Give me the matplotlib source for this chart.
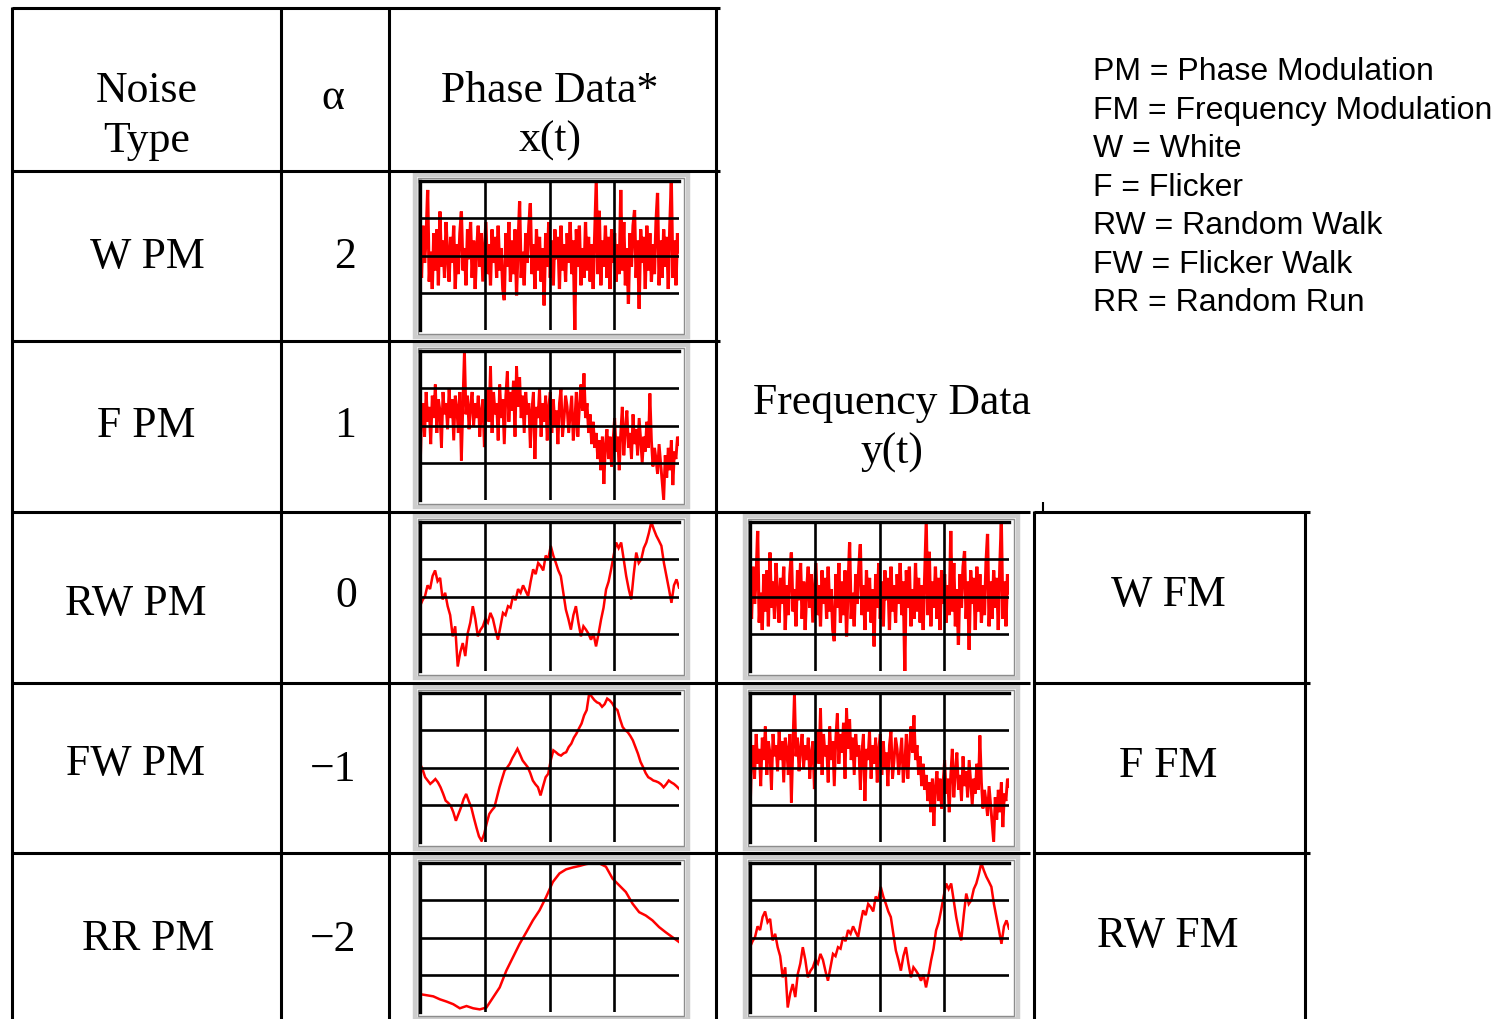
import matplotlib
matplotlib.use("Agg")
import matplotlib.pyplot as plt
from matplotlib.lines import Line2D
from matplotlib.patches import Rectangle

# ---- noise traces (normalised units, grid spans -2 .. 2) ----
white = [0.3, -0.6, 0.8, -0.2, 0.5, 1.76, -0.7, 0.1, -0.9, 0.6,
         -0.4, 0.7, -0.8, 1.18, -0.3, 0.4, -0.6, 0.9, 0.0, -0.7,
         0.5, -0.2, 0.8, -0.9, 0.3, -0.5, 0.6, 1.18, -0.4, 0.2,
         -0.8, 0.7, -0.1, 0.9, -0.6, 0.4, -0.9, 0.2, 0.8, -0.3,
         0.6, -0.7, 0.1, 0.9, -0.5, 0.3, -0.8, 0.7, -0.2, 0.5,
         -0.6, 0.8, -0.4, 0.2, -0.9, -1.2, 0.6, -0.3, 0.9, -0.7,
         0.4, -0.5, 0.7, -1.07, 0.3, 1.45, -0.6, 0.1, -0.8, 0.6,
         -0.2, 0.8, 1.4, -0.5, 0.3, -0.9, 0.7, -0.4, 0.5, -0.7,
         0.2, -1.34, 0.6, -0.3, 0.9, -0.6, 0.4, -0.8, 0.7, -0.1,
         0.5, -0.9, 0.8, -0.4, 0.3, -0.7, 0.6, -0.2, 0.9, -0.5,
         0.4, -2.0, 0.7, -0.3, 0.8, -0.8, 0.2, -0.6, 0.9, -0.4,
         0.5, -0.7, 0.3, -0.9, 0.6, 2.0, -0.5, 1.2, -0.8, 0.4,
         -0.3, 0.8, -0.6, 0.5, -0.9, 0.7, -0.2, 0.6, -0.7, 0.3,
         -0.5, 1.76, -0.4, 0.9, -0.8, 0.2, -1.3, 0.6, -0.3, 0.8,
         1.22, -0.6, 0.4, -1.43, 0.7, -0.2, 0.5, -0.9, 0.8, -0.4,
         0.6, -0.7, 0.3, -0.5, 0.9, 1.68, -0.8, 0.4, -0.6, 0.7,
         -0.3, 0.5, -0.9, 0.8, 2.0, -0.6, 0.4, -0.8, 0.6, 0.1]

flicker = [-1.34, 0.2, 0.6, -0.3, 0.9, 0.1, 0.5, -0.5, 0.8, 0.2,
           1.1, -0.2, 0.7, 0.4, -0.6, 0.9, 0.3, 0.6, -0.1, 1.0,
           0.2, 0.7, -0.4, 0.8, 0.5, -0.2, 0.9, -0.94, 0.6, 2.0,
           0.3, 0.8, -0.1, 0.5, 0.9, 0.0, 0.6, 0.2, 0.8, -0.3,
           0.4, 0.7, -0.58, 0.3, 1.0, 0.1, 1.59, -0.2, 0.9, 0.3,
           0.6, -0.4, 1.1, 0.2, 0.7, -0.5, 0.8, 1.45, 0.1, 0.9,
           0.4, 1.2, -0.3, 1.59, 0.5, 1.3, 0.2, 0.8, -0.2, 0.9,
           0.3, 0.6, -0.6, 0.4, 0.9, -0.9, 0.5, 0.2, 1.0, -0.3,
           0.6, 0.1, 0.8, -0.4, 0.5, 0.9, -0.2, 0.7, 0.0, 0.4,
           -0.5, 0.6, 1.0, -0.3, 0.2, 0.8, 0.5, -0.2, 0.3, 0.8,
           -0.4, 0.1, 0.9, -0.3, 0.5, 1.1, 0.4, 1.40, 0.2, 0.6,
           -0.2, 0.3, -0.5, 0.1, -0.6, -0.2, -0.9, -0.4, -1.2, -0.3,
           -1.57, -0.5, -0.1, -0.9, -0.3, -1.1, -0.4, 0.2, -0.7, -0.3,
           -1.2, -0.2, 0.5, -0.8, -0.1, 0.4, -0.6, -0.2, -0.9, 0.3,
           -0.5, -0.1, -0.8, 0.2, -0.4, -1.0, -0.3, -0.7, 0.1, -0.6,
           0.86, -0.4, -1.1, -0.6, -0.9, -1.3, -0.5, -1.0, -1.5, -2.0,
           -0.8, -1.4, -0.6, -1.2, -0.4, -1.6, -0.7, -0.9, -0.3, -0.5]

random_walk = [-0.26, -0.1, 0.01, 0.3, 0.2, 0.55, 0.7, 0.41, 0.5, -0.08,
               0.1, -0.26, -0.5, -1.07, -0.8, -1.88, -1.5, -1.25, -1.6, -0.98,
               -0.7, -0.26, -0.6, -1.07, -0.9, -0.8, -0.6, -0.7, -0.44, -0.6,
               -0.9, -1.16, -0.8, -0.44, -0.5, -0.26, -0.3, 0.01, -0.1, 0.2,
               0.10, 0.3, 0.15, 0.01, 0.4, 0.73, 0.6, 0.9, 0.82, 0.7,
               1.1, 1.00, 1.36, 1.1, 0.91, 0.7, 0.55, 0.1, -0.35, -0.6,
               -0.89, -0.5, -0.26, -0.7, -1.07, -0.8, -0.89, -1.0, -1.16, -1.0,
               -1.34, -1.0, -0.62, -0.3, 0.19, 0.4, 0.73, 1.1, 1.45, 1.3,
               1.45, 1.0, 0.55, 0.2, -0.08, 0.6, 1.18, 0.9, 1.00, 1.3,
               1.45, 1.7, 2.0, 1.8, 1.63, 1.5, 1.36, 0.9, 0.55, 0.2,
               -0.17, 0.3, 0.46, 0.24]

flicker_walk = [0.10, -0.05, -0.26, -0.35, -0.44, -0.38, -0.31, -0.4, -0.53, -0.7,
                -0.89, -0.95, -1.03, -1.2, -1.43, -1.25, -1.07, -0.85, -0.71, -0.9,
                -1.07, -1.35, -1.61, -1.85, -1.97, -1.79, -1.5, -1.25, -1.15, -1.07,
                -0.8, -0.53, -0.3, -0.08, 0.0, 0.10, 0.25, 0.37, 0.50, 0.35,
                0.19, 0.1, 0.01, -0.15, -0.35, -0.45, -0.53, -0.75, -0.5, -0.26,
                -0.17, 0.2, 0.46, 0.41, 0.35, 0.32, 0.38, 0.41, 0.55, 0.64,
                0.8, 0.91, 1.05, 1.18, 1.4, 1.54, 2.0, 1.9, 1.81, 1.75,
                1.72, 1.63, 1.7, 1.85, 1.8, 1.72, 1.6, 1.54, 1.3, 1.09,
                1.0, 0.95, 0.85, 0.73, 0.55, 0.37, 0.15, 0.01, -0.15, -0.26,
                -0.3, -0.35, -0.37, -0.40, -0.45, -0.53, -0.45, -0.35, -0.4, -0.44,
                -0.5, -0.57]

random_run = [-1.52, -1.55, -1.58, -1.66, -1.72, -1.79, -1.90, -1.84, -1.90, -1.93,
              -1.88, -1.61, -1.34, -0.89, -0.53, -0.17, 0.14, 0.46, 0.73, 1.09,
              1.49, 1.72, 1.83, 1.88, 1.92, 1.97, 2.0, 1.99, 1.90, 1.58,
              1.40, 1.22, 0.91, 0.68, 0.59, 0.46, 0.28, 0.14, 0.01, -0.12]

# ---- table text ----
noise_types = ["W PM", "F PM", "RW PM", "FW PM", "RR PM"]
alphas = ["2", "1", "0", "\u22121", "\u22122"]
fm_types = ["W FM", "F FM", "RW FM"]
legend_lines = ["PM = Phase Modulation", "FM = Frequency Modulation",
                "W = White", "F = Flicker", "RW = Random Walk",
                "FW = Flicker Walk", "RR = Random Run"]

phase_series = [white, flicker, random_walk, flicker_walk, random_run]
freq_series = [white, flicker, random_walk]

W, H = 1499, 1019
fig = plt.figure(figsize=(W / 100, H / 100), dpi=100)
fig.patch.set_facecolor("white")

SERIF = ["Liberation Serif", "DejaVu Serif"]
SANS = ["Liberation Sans", "DejaVu Sans"]


def fx(x):
    return x / W


def fy(y):
    return 1 - y / H


def hline(y, x0, x1, lw=2.2):
    fig.add_artist(Line2D([fx(x0), fx(x1)], [fy(y), fy(y)], color="black",
                          lw=lw, transform=fig.transFigure, solid_capstyle="butt"))


def vline(x, y0, y1, lw=2.2):
    fig.add_artist(Line2D([fx(x), fx(x)], [fy(y0), fy(y1)], color="black",
                          lw=lw, transform=fig.transFigure, solid_capstyle="butt"))


def label(x, y, s, size=31.5, family=SERIF, ha="center"):
    fig.text(fx(x), fy(y), s, ha=ha, va="baseline", fontsize=size,
             family=family, color="black")


def scope(x0, x1, row_top, data, lw):
    # bevelled grey frame
    fig.add_artist(Rectangle((fx(x0 - 5), fy(row_top + 166)),
                             fx(x1 + 9) - fx(x0 - 5), fy(row_top + 4) - fy(row_top + 166),
                             transform=fig.transFigure, facecolor="white",
                             edgecolor="#cdcdcd", lw=3.2, zorder=0))
    fig.add_artist(Rectangle((fx(x0 - 2), fy(row_top + 163)),
                             fx(x1 + 5) - fx(x0 - 2), fy(row_top + 7) - fy(row_top + 163),
                             transform=fig.transFigure, facecolor="none",
                             edgecolor="#8c8c8c", lw=1.0, zorder=0))
    ax = fig.add_axes([fx(x0), fy(row_top + 159), fx(x1) - fx(x0),
                       fy(row_top + 10) - fy(row_top + 159)])
    n = len(data)
    ax.plot(range(n), data, color="#ff0000", lw=lw, zorder=2,
            solid_joinstyle="miter")
    ax.set_xlim(0, n - 1)
    ax.set_ylim(-2, 2)
    ax.set_xticks([(n - 1) * k / 4 for k in (1, 2, 3)])
    ax.set_yticks([-1, 0, 1])
    ax.grid(True, color="black", lw=1.9)
    ax.set_axisbelow(False)
    ax.tick_params(length=0, labelbottom=False, labelleft=False)
    for side in ("bottom", "right"):
        ax.spines[side].set_visible(False)
    for side in ("top", "left"):
        ax.spines[side].set_linewidth(2.4)
    ax.patch.set_alpha(0)
    return ax


row_tops = [171, 341, 512, 683, 853]
phase_lw = [2.3, 2.1, 1.8, 1.8, 1.8]
freq_lw = [2.3, 2.1, 1.8]

# ---- table grid ----
hline(8, 12, 720)
hline(171, 12, 720)
hline(341, 12, 720)
for y in (512, 683, 853):
    hline(y, 12, 1030)
    hline(y, 1034, 1310)
for x in (12, 281, 389, 716):
    vline(x, 7, 1019)
vline(1034, 511, 1019)
vline(1305, 511, 1019)
vline(1043, 502, 511, lw=1.5)

# ---- headers ----
label(147, 102, "Noise")
label(147, 152, "Type")
label(333, 109, "\u03b1")
label(550, 102, "Phase Data*")
label(550, 152, "x(t)")
label(892, 414, "Frequency Data")
label(892, 464, "y(t)")

# ---- rows ----
name_x = [147, 146, 136, 135, 148]
name_base = [268, 437, 615, 775, 950]
alpha_x = [345, 345, 346, 333, 333]
alpha_base = [268, 437, 607, 781, 951]
for i in range(5):
    label(name_x[i], name_base[i], noise_types[i])
    label(alpha_x[i], alpha_base[i], alphas[i])
    scope(420, 679, row_tops[i], phase_series[i], phase_lw[i])

fm_base = [606, 777, 947]
for i in range(3):
    label(1168, fm_base[i], fm_types[i])
    scope(750, 1009, row_tops[2 + i], freq_series[i], freq_lw[i])

# ---- abbreviations ----
for i, s in enumerate(legend_lines):
    label(1093, 80 + 38.5 * i, s, size=23, family=SANS, ha="left")

fig.savefig("out.png", dpi=100, facecolor="white")
